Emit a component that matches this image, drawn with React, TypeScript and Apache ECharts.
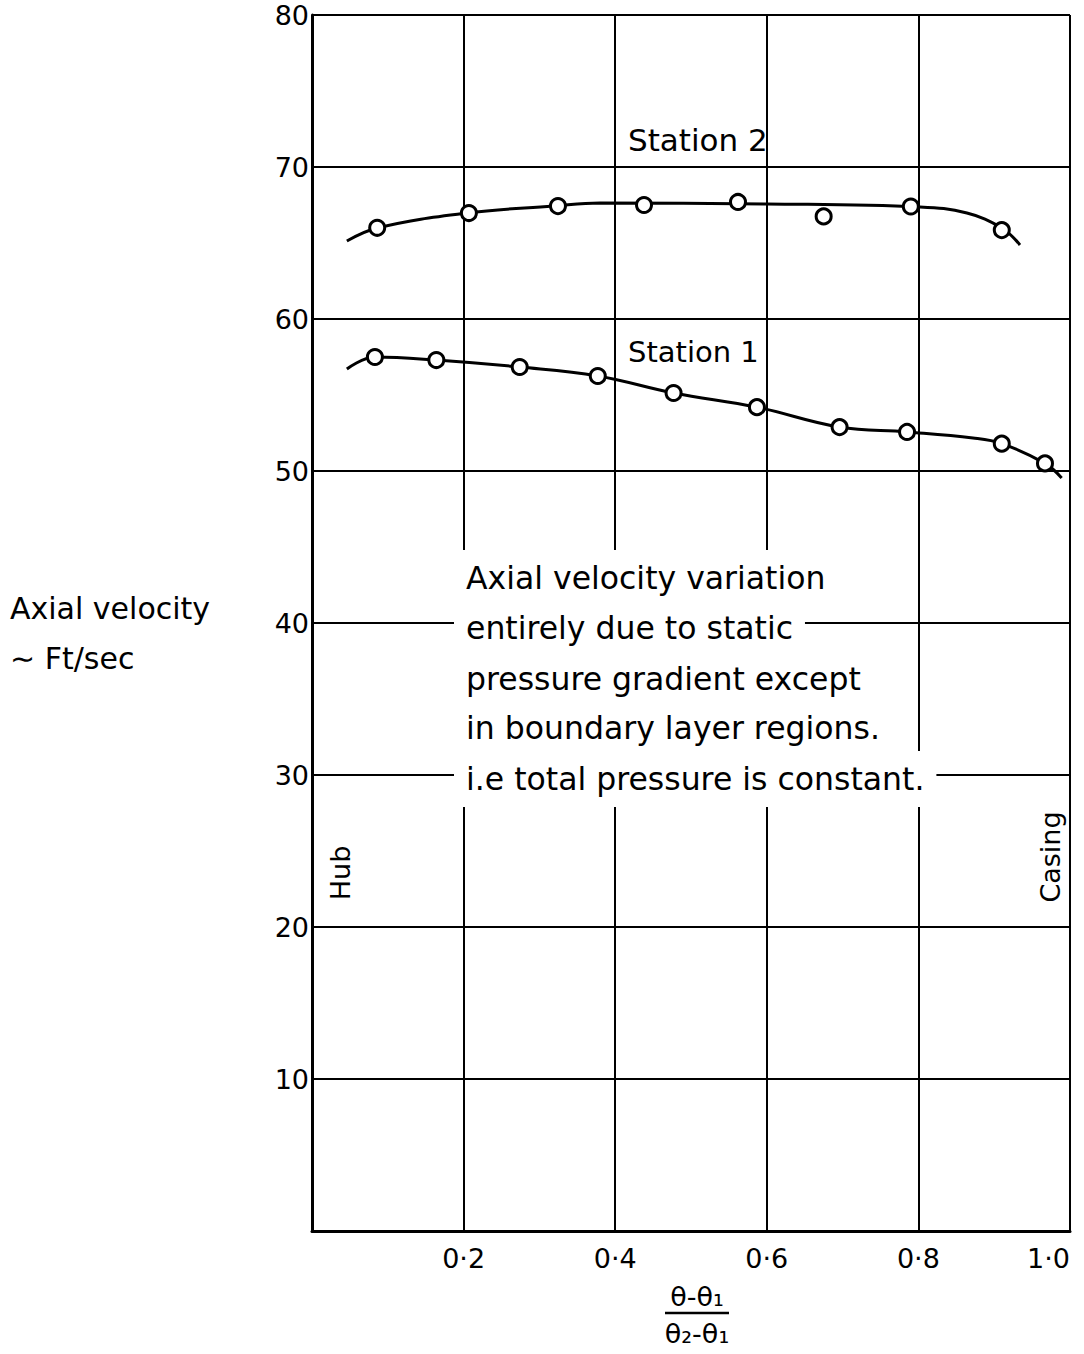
import React, { useEffect, useRef } from "react";
import * as echarts from "echarts";

// ---- data ----
const xTickLabels = ["0·2", "0·4", "0·6", "0·8", "1·0"];
const yTickValues = [10, 20, 30, 40, 50, 60, 70, 80];

// measured points (circles)
const station2X = [0.086, 0.207, 0.3245, 0.438, 0.562, 0.675, 0.79, 0.91];
const station2Y = [66.0, 66.97, 67.43, 67.5, 67.7, 66.75, 67.4, 65.85];

const station1X = [0.083, 0.164, 0.274, 0.377, 0.477, 0.587, 0.696, 0.785, 0.91, 0.967];
const station1Y = [57.5, 57.3, 56.84, 56.25, 55.13, 54.2, 52.89, 52.57, 51.8, 50.5];

// faired curves
const curve2X = [0.046, 0.086, 0.204, 0.318, 0.38, 0.6, 0.802, 0.864, 0.91, 0.934];
const curve2Y = [65.13, 65.99, 66.97, 67.43, 67.63, 67.57, 67.37, 66.97, 65.99, 64.87];

const curve1X = [0.046, 0.083, 0.164, 0.274, 0.377, 0.477, 0.587, 0.696, 0.785, 0.872, 0.91, 0.967, 0.989];
const curve1Y = [56.71, 57.5, 57.3, 56.84, 56.25, 55.13, 54.2, 52.89, 52.57, 52.17, 51.8, 50.5, 49.54];

const noteLines = [
  "Axial velocity variation",
  "entirely due to static",
  "pressure gradient except",
  "in boundary layer regions.",
  "i.e total pressure is constant.",
];

const FONT = "'DejaVu Sans', sans-serif";

const zip = (xs: number[], ys: number[]) => xs.map((x, i) => [x, ys[i]]);

export default function App() {
  const ref = useRef<HTMLDivElement>(null);

  useEffect(() => {
    if (!ref.current) return;
    const chart = echarts.init(ref.current, null, { renderer: "svg" });

    const text = (
      t: string,
      x: number,
      y: number,
      size: number,
      extra: any = {},
      elExtra: any = {}
    ) => ({
      type: "text",
      x,
      y,
      z: 100,
      ...elExtra,
      style: {
        text: t,
        font: `${size}px ${FONT}`,
        fill: "#000",
        align: "left",
        verticalAlign: "middle",
        textAlign: "left",
        textVerticalAlign: "middle",
        ...extra,
      },
    });

    const noteY = [578, 628, 679, 728, 779];

    const option: any = {
      animation: false,
      backgroundColor: "#fff",
      grid: {
        left: 312,
        right: 14,
        top: 15,
        bottom: 123,
        containLabel: false,
        outerBoundsMode: "none",
      },
      xAxis: {
        type: "value",
        min: 0,
        max: 1,
        interval: 0.2,
        axisLine: { show: true, onZero: false, lineStyle: { color: "#000", width: 3 } },
        axisTick: { show: false },
        splitLine: { show: true, lineStyle: { color: "#000", width: 2 } },
        axisLabel: {
          color: "#000",
          fontSize: 27,
          fontFamily: FONT,
          margin: 14,
          alignMaxLabel: "right",
          formatter: (v: number) => {
            const i = Math.round(v / 0.2) - 1;
            return i >= 0 && i < xTickLabels.length ? xTickLabels[i] : "";
          },
        },
      },
      yAxis: {
        type: "value",
        min: 0,
        max: 80,
        interval: 10,
        axisLine: { show: true, onZero: false, lineStyle: { color: "#000", width: 3 } },
        axisTick: { show: false },
        splitLine: { show: true, lineStyle: { color: "#000", width: 2 } },
        axisLabel: {
          color: "#000",
          fontSize: 27,
          fontFamily: FONT,
          margin: 3,
          formatter: (v: number) => (yTickValues.includes(v) ? String(v) : ""),
        },
      },
      series: [
        {
          name: "Station 2 curve",
          type: "line",
          data: zip(curve2X, curve2Y),
          smooth: 0.4,
          showSymbol: false,
          lineStyle: { color: "#000", width: 3 },
          z: 3,
        },
        {
          name: "Station 1 curve",
          type: "line",
          data: zip(curve1X, curve1Y),
          smooth: 0.4,
          showSymbol: false,
          lineStyle: { color: "#000", width: 3 },
          z: 3,
        },
        {
          name: "Station 2",
          type: "scatter",
          data: zip(station2X, station2Y),
          symbol: "circle",
          symbolSize: 15,
          itemStyle: { color: "#fff", borderColor: "#000", borderWidth: 3, opacity: 1 },
          z: 5,
        },
        {
          name: "Station 1",
          type: "scatter",
          data: zip(station1X, station1Y),
          symbol: "circle",
          symbolSize: 15,
          itemStyle: { color: "#fff", borderColor: "#000", borderWidth: 3, opacity: 1 },
          z: 5,
        },
      ],
      graphic: [
        text("Station 2", 628, 140, 31),
        text("Station 1", 628, 352, 29),
        ...noteLines.map((t, i) =>
          text(t, 454, noteY[i], 31.5, {
            backgroundColor: "#fff",
            padding: [12, 12, 12, 12],
          })
        ),
        text("Axial velocity", 10, 608, 30),
        text("∼ Ft/sec", 10, 658, 30),
        text("Hub", 340, 873, 27, { align: "center", textAlign: "center" }, { rotation: Math.PI / 2 }),
        text("Casing", 1050, 857, 27, { align: "center", textAlign: "center" }, { rotation: Math.PI / 2 }),
        text("θ-θ₁", 697, 1296, 27, { align: "center", textAlign: "center" }),
        {
          type: "line",
          z: 100,
          shape: { x1: 665, y1: 1313, x2: 729, y2: 1313 },
          style: { stroke: "#000", lineWidth: 2.5 },
        },
        text("θ₂-θ₁", 697, 1333, 27, { align: "center", textAlign: "center" }),
      ],
    };

    chart.setOption(option);
    return () => chart.dispose();
  }, []);

  return (
    <div
      ref={ref}
      style={{ position: "fixed", left: 0, top: 0, width: 1084, height: 1354, background: "#fff" }}
    />
  );
}
